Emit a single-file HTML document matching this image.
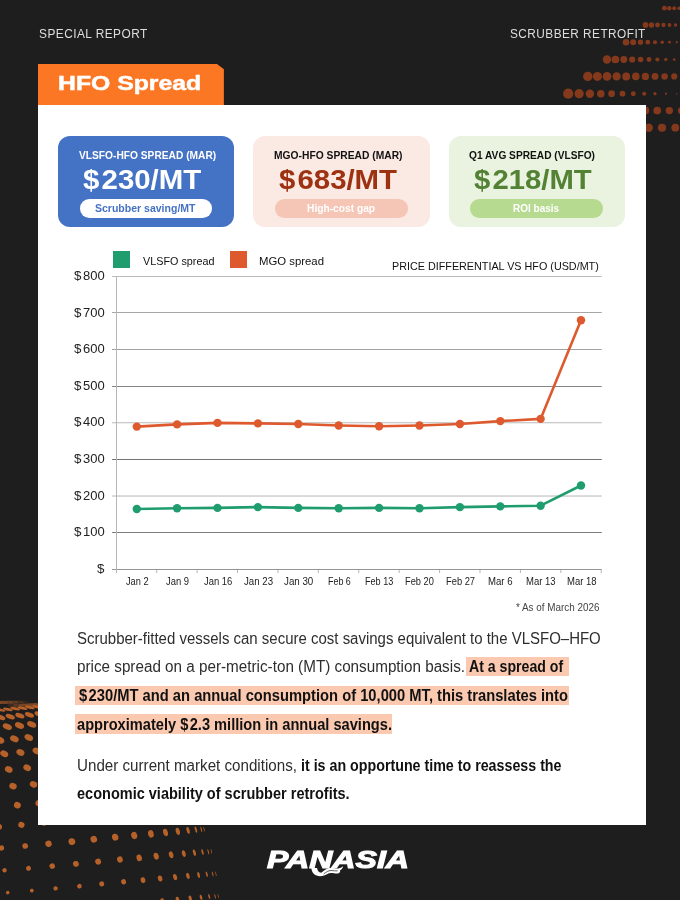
<!DOCTYPE html>
<html lang="en"><head><meta charset="utf-8"><title>HFO Spread</title>
<style>
*{margin:0;padding:0;box-sizing:border-box}
html,body{width:680px;height:900px;overflow:hidden;background:#1e1e1e}
body{position:relative;font-family:"Liberation Sans",sans-serif;color:#222}
.bg{position:absolute;left:0;top:0}
.t{position:absolute;white-space:pre;transform-origin:0 50%}
.tab{position:absolute;left:38px;top:63.7px;width:185.9px;height:41.5px;background:#fb7723;clip-path:polygon(0 0,178.7px 0,100% 5.6px,100% 100%,0 100%)}
.panel{position:absolute;left:37.9px;top:104.6px;width:608.3px;height:720.6px;background:#fff}
.card{position:absolute;top:136px;height:91px;border-radius:12px}
.pill{position:absolute;top:199.2px;height:18.5px;border-radius:9.25px}
.hl{position:absolute;background:#fbc9b0;height:19.5px}
</style></head><body>
<svg class="bg" width="680" height="900" viewBox="0 0 680 900"><g fill="#84391c"><circle cx="664.4" cy="8.2" r="2.40"/><circle cx="669.3" cy="8.2" r="2.20"/><circle cx="674.2" cy="8.2" r="2.00"/><circle cx="679.1" cy="8.2" r="1.80"/><circle cx="684.0" cy="8.2" r="1.60"/><circle cx="688.9" cy="8.2" r="1.60"/><circle cx="645.5" cy="25.0" r="2.90"/><circle cx="651.5" cy="25.0" r="2.65"/><circle cx="657.5" cy="25.0" r="2.40"/><circle cx="663.5" cy="25.0" r="2.15"/><circle cx="669.5" cy="25.0" r="1.90"/><circle cx="675.5" cy="25.0" r="1.65"/><circle cx="681.5" cy="25.0" r="1.40"/><circle cx="687.5" cy="25.0" r="1.30"/><circle cx="626.0" cy="42.2" r="3.30"/><circle cx="633.2" cy="42.2" r="2.99"/><circle cx="640.5" cy="42.2" r="2.67"/><circle cx="647.8" cy="42.2" r="2.36"/><circle cx="655.0" cy="42.2" r="2.05"/><circle cx="662.2" cy="42.2" r="1.74"/><circle cx="669.5" cy="42.2" r="1.42"/><circle cx="676.8" cy="42.2" r="1.11"/><circle cx="684.0" cy="42.2" r="0.80"/><circle cx="607.0" cy="59.5" r="4.20"/><circle cx="615.4" cy="59.5" r="3.84"/><circle cx="623.8" cy="59.5" r="3.48"/><circle cx="632.2" cy="59.5" r="3.12"/><circle cx="640.6" cy="59.5" r="2.76"/><circle cx="649.0" cy="59.5" r="2.40"/><circle cx="657.4" cy="59.5" r="2.04"/><circle cx="665.8" cy="59.5" r="1.68"/><circle cx="674.2" cy="59.5" r="1.32"/><circle cx="682.6" cy="59.5" r="0.96"/><circle cx="587.8" cy="76.4" r="4.70"/><circle cx="597.4" cy="76.4" r="4.52"/><circle cx="607.0" cy="76.4" r="4.34"/><circle cx="616.6" cy="76.4" r="4.16"/><circle cx="626.2" cy="76.4" r="3.98"/><circle cx="635.8" cy="76.4" r="3.80"/><circle cx="645.4" cy="76.4" r="3.62"/><circle cx="655.0" cy="76.4" r="3.44"/><circle cx="664.6" cy="76.4" r="3.26"/><circle cx="674.2" cy="76.4" r="3.08"/><circle cx="683.8" cy="76.4" r="2.90"/><circle cx="568.2" cy="93.7" r="5.10"/><circle cx="579.1" cy="93.7" r="4.66"/><circle cx="589.9" cy="93.7" r="4.22"/><circle cx="600.8" cy="93.7" r="3.78"/><circle cx="611.6" cy="93.7" r="3.34"/><circle cx="622.5" cy="93.7" r="2.90"/><circle cx="633.3" cy="93.7" r="2.46"/><circle cx="644.2" cy="93.7" r="2.02"/><circle cx="655.0" cy="93.7" r="1.58"/><circle cx="665.9" cy="93.7" r="1.14"/><circle cx="676.7" cy="93.7" r="0.70"/><circle cx="687.6" cy="93.7" r="0.40"/><circle cx="548.7" cy="110.6" r="5.30"/><circle cx="560.8" cy="110.6" r="5.14"/><circle cx="572.8" cy="110.6" r="4.98"/><circle cx="584.9" cy="110.6" r="4.82"/><circle cx="596.9" cy="110.6" r="4.66"/><circle cx="609.0" cy="110.6" r="4.50"/><circle cx="621.1" cy="110.6" r="4.34"/><circle cx="633.1" cy="110.6" r="4.18"/><circle cx="645.2" cy="110.6" r="4.02"/><circle cx="657.2" cy="110.6" r="3.86"/><circle cx="669.3" cy="110.6" r="3.70"/><circle cx="681.4" cy="110.6" r="3.54"/><circle cx="529.0" cy="127.7" r="5.60"/><circle cx="542.3" cy="127.7" r="5.45"/><circle cx="555.6" cy="127.7" r="5.29"/><circle cx="568.9" cy="127.7" r="5.14"/><circle cx="582.2" cy="127.7" r="4.98"/><circle cx="595.5" cy="127.7" r="4.83"/><circle cx="608.8" cy="127.7" r="4.67"/><circle cx="622.1" cy="127.7" r="4.52"/><circle cx="635.4" cy="127.7" r="4.36"/><circle cx="648.7" cy="127.7" r="4.21"/><circle cx="662.0" cy="127.7" r="4.06"/><circle cx="675.3" cy="127.7" r="3.90"/><circle cx="688.6" cy="127.7" r="3.80"/></g><g fill="#b7612a"><ellipse cx="-6.7" cy="710.7" rx="4.9" ry="1.4" transform="rotate(13 -6.7 710.7)"/><ellipse cx="0.6" cy="710.0" rx="4.9" ry="1.4" transform="rotate(13 0.6 710.0)"/><ellipse cx="7.9" cy="709.4" rx="4.9" ry="1.4" transform="rotate(13 7.9 709.4)"/><ellipse cx="15.2" cy="708.7" rx="4.9" ry="1.4" transform="rotate(13 15.2 708.7)"/><ellipse cx="22.5" cy="708.1" rx="4.9" ry="1.4" transform="rotate(13 22.5 708.1)"/><ellipse cx="29.8" cy="707.4" rx="4.9" ry="1.4" transform="rotate(13 29.8 707.4)"/><ellipse cx="37.1" cy="706.8" rx="4.9" ry="1.4" transform="rotate(13 37.1 706.8)"/><ellipse cx="44.4" cy="706.1" rx="4.9" ry="1.4" transform="rotate(13 44.4 706.1)"/><ellipse cx="51.7" cy="705.4" rx="4.9" ry="1.4" transform="rotate(13 51.7 705.4)"/><ellipse cx="59.0" cy="704.8" rx="4.9" ry="1.4" transform="rotate(13 59.0 704.8)"/><ellipse cx="-8.9" cy="718.3" rx="4.8" ry="2.3" transform="rotate(19 -8.9 718.3)"/><ellipse cx="0.7" cy="717.4" rx="4.8" ry="2.3" transform="rotate(19 0.7 717.4)"/><ellipse cx="10.3" cy="716.6" rx="4.8" ry="2.3" transform="rotate(19 10.3 716.6)"/><ellipse cx="19.9" cy="715.7" rx="4.8" ry="2.3" transform="rotate(19 19.9 715.7)"/><ellipse cx="29.5" cy="714.8" rx="4.8" ry="2.3" transform="rotate(19 29.5 714.8)"/><ellipse cx="39.1" cy="714.0" rx="4.8" ry="2.3" transform="rotate(19 39.1 714.0)"/><ellipse cx="48.7" cy="713.1" rx="4.8" ry="2.3" transform="rotate(19 48.7 713.1)"/><ellipse cx="58.3" cy="712.3" rx="4.8" ry="2.3" transform="rotate(19 58.3 712.3)"/><ellipse cx="-17.1" cy="728.8" rx="4.8" ry="2.9" transform="rotate(22 -17.1 728.8)"/><ellipse cx="-4.9" cy="727.7" rx="4.8" ry="2.9" transform="rotate(22 -4.9 727.7)"/><ellipse cx="7.3" cy="726.6" rx="4.8" ry="2.9" transform="rotate(22 7.3 726.6)"/><ellipse cx="19.5" cy="725.5" rx="4.8" ry="2.9" transform="rotate(22 19.5 725.5)"/><ellipse cx="31.7" cy="724.4" rx="4.8" ry="2.9" transform="rotate(22 31.7 724.4)"/><ellipse cx="43.9" cy="723.3" rx="4.8" ry="2.9" transform="rotate(22 43.9 723.3)"/><ellipse cx="56.1" cy="722.3" rx="4.8" ry="2.9" transform="rotate(22 56.1 722.3)"/><ellipse cx="-14.4" cy="741.4" rx="4.5" ry="3.1" transform="rotate(25 -14.4 741.4)"/><ellipse cx="0.0" cy="740.1" rx="4.5" ry="3.1" transform="rotate(25 0.0 740.1)"/><ellipse cx="14.4" cy="738.8" rx="4.5" ry="3.1" transform="rotate(25 14.4 738.8)"/><ellipse cx="28.8" cy="737.5" rx="4.5" ry="3.1" transform="rotate(25 28.8 737.5)"/><ellipse cx="43.2" cy="736.2" rx="4.5" ry="3.1" transform="rotate(25 43.2 736.2)"/><ellipse cx="57.6" cy="734.9" rx="4.5" ry="3.1" transform="rotate(25 57.6 734.9)"/><ellipse cx="-12.0" cy="755.3" rx="4.2" ry="3.1" transform="rotate(26 -12.0 755.3)"/><ellipse cx="4.2" cy="753.8" rx="4.2" ry="3.1" transform="rotate(26 4.2 753.8)"/><ellipse cx="20.4" cy="752.4" rx="4.2" ry="3.1" transform="rotate(26 20.4 752.4)"/><ellipse cx="36.6" cy="750.9" rx="4.2" ry="3.1" transform="rotate(26 36.6 750.9)"/><ellipse cx="52.8" cy="749.4" rx="4.2" ry="3.1" transform="rotate(26 52.8 749.4)"/><ellipse cx="-9.8" cy="771.1" rx="4.0" ry="3.1" transform="rotate(26 -9.8 771.1)"/><ellipse cx="8.7" cy="769.4" rx="4.0" ry="3.1" transform="rotate(26 8.7 769.4)"/><ellipse cx="27.2" cy="767.8" rx="4.0" ry="3.1" transform="rotate(26 27.2 767.8)"/><ellipse cx="45.7" cy="766.1" rx="4.0" ry="3.1" transform="rotate(26 45.7 766.1)"/><ellipse cx="-7.5" cy="788.1" rx="3.8" ry="3.1" transform="rotate(24 -7.5 788.1)"/><ellipse cx="13.0" cy="786.2" rx="3.8" ry="3.1" transform="rotate(24 13.0 786.2)"/><ellipse cx="33.5" cy="784.4" rx="3.8" ry="3.1" transform="rotate(24 33.5 784.4)"/><ellipse cx="54.0" cy="782.5" rx="3.8" ry="3.1" transform="rotate(24 54.0 782.5)"/><ellipse cx="-25.6" cy="809.1" rx="3.5" ry="3.2" transform="rotate(20 -25.6 809.1)"/><ellipse cx="-4.1" cy="807.2" rx="3.5" ry="3.2" transform="rotate(20 -4.1 807.2)"/><ellipse cx="17.4" cy="805.2" rx="3.5" ry="3.2" transform="rotate(20 17.4 805.2)"/><ellipse cx="38.9" cy="803.3" rx="3.5" ry="3.2" transform="rotate(20 38.9 803.3)"/><ellipse cx="-23.8" cy="828.9" rx="3.2" ry="3.0" transform="rotate(10 -23.8 828.9)"/><ellipse cx="-1.2" cy="826.9" rx="3.2" ry="3.0" transform="rotate(10 -1.2 826.9)"/><ellipse cx="21.4" cy="824.9" rx="3.2" ry="3.0" transform="rotate(10 21.4 824.9)"/><ellipse cx="44.0" cy="822.8" rx="3.2" ry="3.0" transform="rotate(10 44.0 822.8)"/><g opacity="0.62"><ellipse cx="-2.0" cy="702.5" rx="4.6" ry="1.7" opacity="1.07"/><ellipse cx="3.2" cy="702.4" rx="4.6" ry="1.7" opacity="0.89"/><ellipse cx="8.4" cy="702.3" rx="4.6" ry="1.7" opacity="0.72"/><ellipse cx="13.6" cy="702.2" rx="4.6" ry="1.7" opacity="0.55"/><ellipse cx="18.8" cy="702.1" rx="4.6" ry="1.7" opacity="0.37"/><ellipse cx="24.0" cy="702.0" rx="4.6" ry="1.7" opacity="0.20"/><ellipse cx="12.0" cy="705.4" rx="4.6" ry="1.6" opacity="0.30"/><ellipse cx="17.8" cy="705.3" rx="4.6" ry="1.6" opacity="0.62"/><ellipse cx="23.6" cy="705.1" rx="4.6" ry="1.6" opacity="0.94"/><ellipse cx="29.4" cy="704.9" rx="4.6" ry="1.6" opacity="1.00"/><ellipse cx="35.2" cy="704.7" rx="4.6" ry="1.6" opacity="1.00"/><ellipse cx="41.0" cy="704.6" rx="4.6" ry="1.6" opacity="1.00"/></g><ellipse cx="1.5" cy="848.0" rx="2.60" ry="2.60" transform="rotate(-14 1.5 848.0)"/><ellipse cx="25.2" cy="846.0" rx="2.80" ry="2.80" transform="rotate(-14 25.2 846.0)"/><ellipse cx="48.5" cy="843.8" rx="3.20" ry="3.20" transform="rotate(-14 48.5 843.8)"/><ellipse cx="71.9" cy="841.6" rx="3.40" ry="3.40" transform="rotate(-14 71.9 841.6)"/><ellipse cx="93.8" cy="839.3" rx="3.30" ry="3.40" transform="rotate(-14 93.8 839.3)"/><ellipse cx="115.2" cy="837.2" rx="3.20" ry="3.50" transform="rotate(-14 115.2 837.2)"/><ellipse cx="134.2" cy="835.5" rx="3.00" ry="3.70" transform="rotate(-14 134.2 835.5)"/><ellipse cx="150.9" cy="833.9" rx="2.80" ry="3.80" transform="rotate(-14 150.9 833.9)"/><ellipse cx="165.5" cy="832.5" rx="2.40" ry="3.80" transform="rotate(-14 165.5 832.5)"/><ellipse cx="177.8" cy="831.3" rx="2.00" ry="3.70" transform="rotate(-14 177.8 831.3)"/><ellipse cx="188.1" cy="830.4" rx="1.50" ry="3.50" transform="rotate(-14 188.1 830.4)"/><ellipse cx="195.9" cy="829.6" rx="1.00" ry="3.30" transform="rotate(-14 195.9 829.6)"/><ellipse cx="201.3" cy="829.4" rx="0.60" ry="3.00" transform="rotate(-14 201.3 829.4)"/><ellipse cx="204.1" cy="829.2" rx="0.40" ry="2.60" transform="rotate(-14 204.1 829.2)"/><ellipse cx="4.5" cy="870.3" rx="2.24" ry="2.24" transform="rotate(-14 4.5 870.3)"/><ellipse cx="28.5" cy="868.3" rx="2.41" ry="2.41" transform="rotate(-14 28.5 868.3)"/><ellipse cx="52.2" cy="866.1" rx="2.75" ry="2.75" transform="rotate(-14 52.2 866.1)"/><ellipse cx="75.9" cy="863.9" rx="2.92" ry="2.92" transform="rotate(-14 75.9 863.9)"/><ellipse cx="98.1" cy="861.6" rx="2.93" ry="3.02" transform="rotate(-14 98.1 861.6)"/><ellipse cx="119.9" cy="859.5" rx="2.86" ry="3.13" transform="rotate(-14 119.9 859.5)"/><ellipse cx="139.2" cy="857.8" rx="2.70" ry="3.34" transform="rotate(-14 139.2 857.8)"/><ellipse cx="156.2" cy="856.2" rx="2.54" ry="3.45" transform="rotate(-14 156.2 856.2)"/><ellipse cx="171.1" cy="854.8" rx="2.20" ry="3.48" transform="rotate(-14 171.1 854.8)"/><ellipse cx="183.8" cy="853.6" rx="1.84" ry="3.41" transform="rotate(-14 183.8 853.6)"/><ellipse cx="194.4" cy="852.7" rx="1.39" ry="3.25" transform="rotate(-14 194.4 852.7)"/><ellipse cx="202.5" cy="851.9" rx="0.94" ry="3.09" transform="rotate(-14 202.5 851.9)"/><ellipse cx="208.3" cy="851.7" rx="0.57" ry="2.83" transform="rotate(-14 208.3 851.7)"/><ellipse cx="211.4" cy="851.5" rx="0.38" ry="2.47" transform="rotate(-14 211.4 851.5)"/><ellipse cx="7.7" cy="892.6" rx="1.77" ry="1.77" transform="rotate(-14 7.7 892.6)"/><ellipse cx="31.8" cy="890.6" rx="1.90" ry="1.90" transform="rotate(-14 31.8 890.6)"/><ellipse cx="55.6" cy="888.4" rx="2.18" ry="2.18" transform="rotate(-14 55.6 888.4)"/><ellipse cx="79.4" cy="886.2" rx="2.31" ry="2.31" transform="rotate(-14 79.4 886.2)"/><ellipse cx="101.7" cy="883.9" rx="2.47" ry="2.54" transform="rotate(-14 101.7 883.9)"/><ellipse cx="123.6" cy="881.8" rx="2.45" ry="2.68" transform="rotate(-14 123.6 881.8)"/><ellipse cx="143.0" cy="880.1" rx="2.35" ry="2.90" transform="rotate(-14 143.0 880.1)"/><ellipse cx="160.1" cy="878.5" rx="2.24" ry="3.04" transform="rotate(-14 160.1 878.5)"/><ellipse cx="175.1" cy="877.1" rx="1.96" ry="3.10" transform="rotate(-14 175.1 877.1)"/><ellipse cx="187.9" cy="875.9" rx="1.67" ry="3.09" transform="rotate(-14 187.9 875.9)"/><ellipse cx="198.6" cy="875.0" rx="1.28" ry="2.98" transform="rotate(-14 198.6 875.0)"/><ellipse cx="206.8" cy="874.2" rx="0.87" ry="2.87" transform="rotate(-14 206.8 874.2)"/><ellipse cx="212.7" cy="874.0" rx="0.53" ry="2.66" transform="rotate(-14 212.7 874.0)"/><ellipse cx="215.9" cy="873.8" rx="0.36" ry="2.35" transform="rotate(-14 215.9 873.8)"/><ellipse cx="9.9" cy="914.9" rx="1.30" ry="1.30" transform="rotate(-14 9.9 914.9)"/><ellipse cx="34.0" cy="912.9" rx="1.40" ry="1.40" transform="rotate(-14 34.0 912.9)"/><ellipse cx="57.8" cy="910.7" rx="1.60" ry="1.60" transform="rotate(-14 57.8 910.7)"/><ellipse cx="81.6" cy="908.5" rx="1.70" ry="1.70" transform="rotate(-14 81.6 908.5)"/><ellipse cx="104.0" cy="906.2" rx="2.01" ry="2.07" transform="rotate(-14 104.0 906.2)"/><ellipse cx="125.8" cy="904.1" rx="2.04" ry="2.23" transform="rotate(-14 125.8 904.1)"/><ellipse cx="145.3" cy="902.4" rx="1.99" ry="2.46" transform="rotate(-14 145.3 902.4)"/><ellipse cx="162.4" cy="900.8" rx="1.94" ry="2.63" transform="rotate(-14 162.4 900.8)"/><ellipse cx="177.5" cy="899.4" rx="1.73" ry="2.74" transform="rotate(-14 177.5 899.4)"/><ellipse cx="190.2" cy="898.2" rx="1.49" ry="2.77" transform="rotate(-14 190.2 898.2)"/><ellipse cx="201.0" cy="897.3" rx="1.16" ry="2.71" transform="rotate(-14 201.0 897.3)"/><ellipse cx="209.2" cy="896.5" rx="0.80" ry="2.65" transform="rotate(-14 209.2 896.5)"/><ellipse cx="215.1" cy="896.3" rx="0.50" ry="2.49" transform="rotate(-14 215.1 896.3)"/><ellipse cx="218.3" cy="896.1" rx="0.34" ry="2.23" transform="rotate(-14 218.3 896.1)"/></g></svg>
<div class="tab"></div>
<div class="panel"></div>
<div class="card" style="left:57.5px;width:176.5px;background:#4472c4"></div>
<div class="card" style="left:253.25px;width:176.25px;background:#fbe9e3"></div>
<div class="card" style="left:449px;width:176px;background:#e9f3df"></div>
<div class="pill" style="left:79.5px;width:132.25px;background:#fff"></div>
<div class="pill" style="left:274.5px;width:133px;background:#f5c6b5"></div>
<div class="pill" style="left:470px;width:133px;background:#b7da91"></div>
<svg class="bg" width="680" height="900" viewBox="0 0 680 900"><rect x="112" y="276" width="489.75" height="1" fill="#bcbcbc"/><rect x="112" y="312" width="489.75" height="1" fill="#a6a6a6"/><rect x="112" y="349" width="489.75" height="1" fill="#a2a2a2"/><rect x="112" y="386" width="489.75" height="1" fill="#858585"/><rect x="112" y="422" width="489.75" height="1" fill="#cbcbcb"/><rect x="112" y="423" width="489.75" height="1" fill="#ededed"/><rect x="112" y="459" width="489.75" height="1" fill="#747474"/><rect x="112" y="495" width="489.75" height="1" fill="#dcdcdc"/><rect x="112" y="496" width="489.75" height="1" fill="#d8d8d8"/><rect x="112" y="532" width="489.75" height="1" fill="#7d7d7d"/><rect x="112" y="569" width="489.75" height="1" fill="#969696"/><rect x="116" y="276" width="1" height="297" fill="#b6b6b6"/><rect x="156.17" y="570" width="1" height="3" fill="#b6b6b6"/><rect x="196.58" y="570" width="1" height="3" fill="#b6b6b6"/><rect x="237.00" y="570" width="1" height="3" fill="#b6b6b6"/><rect x="277.42" y="570" width="1" height="3" fill="#b6b6b6"/><rect x="317.83" y="570" width="1" height="3" fill="#b6b6b6"/><rect x="358.25" y="570" width="1" height="3" fill="#b6b6b6"/><rect x="398.67" y="570" width="1" height="3" fill="#b6b6b6"/><rect x="439.08" y="570" width="1" height="3" fill="#b6b6b6"/><rect x="479.50" y="570" width="1" height="3" fill="#b6b6b6"/><rect x="519.92" y="570" width="1" height="3" fill="#b6b6b6"/><rect x="560.33" y="570" width="1" height="3" fill="#b6b6b6"/><rect x="600.75" y="570" width="1" height="3" fill="#b6b6b6"/><polyline points="136.8,426.6 177.1,424.4 217.5,422.9 257.9,423.4 298.3,424.0 338.7,425.5 379.1,426.2 419.5,425.5 459.9,424.0 500.3,421.1 540.6,418.9 581.0,320.3" fill="none" stroke="#de5a2e" stroke-width="2.6" stroke-linejoin="round"/><circle cx="136.8" cy="426.6" r="4.2" fill="#de5a2e"/><circle cx="177.1" cy="424.4" r="4.2" fill="#de5a2e"/><circle cx="217.5" cy="422.9" r="4.2" fill="#de5a2e"/><circle cx="257.9" cy="423.4" r="4.2" fill="#de5a2e"/><circle cx="298.3" cy="424.0" r="4.2" fill="#de5a2e"/><circle cx="338.7" cy="425.5" r="4.2" fill="#de5a2e"/><circle cx="379.1" cy="426.2" r="4.2" fill="#de5a2e"/><circle cx="419.5" cy="425.5" r="4.2" fill="#de5a2e"/><circle cx="459.9" cy="424.0" r="4.2" fill="#de5a2e"/><circle cx="500.3" cy="421.1" r="4.2" fill="#de5a2e"/><circle cx="540.6" cy="418.9" r="4.2" fill="#de5a2e"/><circle cx="581.0" cy="320.3" r="4.2" fill="#de5a2e"/><polyline points="136.8,509.0 177.1,508.2 217.5,507.9 257.9,507.1 298.3,507.9 338.7,508.2 379.1,507.9 419.5,508.2 459.9,507.1 500.3,506.4 540.6,505.7 581.0,485.5" fill="none" stroke="#1f9d6f" stroke-width="2.6" stroke-linejoin="round"/><circle cx="136.8" cy="509.0" r="4.2" fill="#1f9d6f"/><circle cx="177.1" cy="508.2" r="4.2" fill="#1f9d6f"/><circle cx="217.5" cy="507.9" r="4.2" fill="#1f9d6f"/><circle cx="257.9" cy="507.1" r="4.2" fill="#1f9d6f"/><circle cx="298.3" cy="507.9" r="4.2" fill="#1f9d6f"/><circle cx="338.7" cy="508.2" r="4.2" fill="#1f9d6f"/><circle cx="379.1" cy="507.9" r="4.2" fill="#1f9d6f"/><circle cx="419.5" cy="508.2" r="4.2" fill="#1f9d6f"/><circle cx="459.9" cy="507.1" r="4.2" fill="#1f9d6f"/><circle cx="500.3" cy="506.4" r="4.2" fill="#1f9d6f"/><circle cx="540.6" cy="505.7" r="4.2" fill="#1f9d6f"/><circle cx="581.0" cy="485.5" r="4.2" fill="#1f9d6f"/><rect x="113" y="251" width="17" height="17" fill="#1f9d6f"/><rect x="230" y="251" width="17" height="17" fill="#de5a2e"/></svg>
<div class="hl" style="left:466px;top:656.5px;width:103px"></div>
<div class="hl" style="left:75px;top:685.5px;width:494px"></div>
<div class="hl" style="left:75px;top:714.2px;width:317px"></div>
<div class="t" style="left:38.60px;top:26.43px;font-size:13.2px;line-height:16px;color:#dedede;transform:scaleX(0.9014);letter-spacing:0.5px">SPECIAL REPORT</div>
<div class="t" style="left:510.00px;top:26.43px;font-size:13.2px;line-height:16px;color:#dedede;transform:scaleX(0.8971);letter-spacing:0.5px">SCRUBBER RETROFIT</div>
<div class="t" style="left:58.20px;top:70.12px;font-size:21px;line-height:26px;color:#fff;transform:scaleX(1.1800);font-weight:700;-webkit-text-stroke:0.5px #fff">HFO Spread</div>
<div class="t" style="left:78.50px;top:147.92px;font-size:11.5px;line-height:14px;color:#fff;transform:scaleX(0.8874);font-weight:700">VLSFO-HFO SPREAD (MAR)</div>
<div class="t" style="left:273.70px;top:147.92px;font-size:11.5px;line-height:14px;color:#111;transform:scaleX(0.8939);font-weight:700">MGO-HFO SPREAD (MAR)</div>
<div class="t" style="left:468.70px;top:147.92px;font-size:11.5px;line-height:14px;color:#111;transform:scaleX(0.8842);font-weight:700">Q1 AVG SPREAD (VLSFO)</div>
<div class="t" style="left:83.20px;top:163.31px;font-size:27.4px;line-height:33px;color:#fff;transform:scaleX(1.0745);font-weight:700"><span style="letter-spacing:2px">$</span>230/MT</div>
<div class="t" style="left:278.50px;top:163.31px;font-size:27.4px;line-height:33px;color:#9c3212;transform:scaleX(1.0718);font-weight:700"><span style="letter-spacing:2px">$</span>683/MT</div>
<div class="t" style="left:473.50px;top:163.31px;font-size:27.4px;line-height:33px;color:#548235;transform:scaleX(1.0691);font-weight:700"><span style="letter-spacing:2px">$</span>218/MT</div>
<div class="t" style="left:95.40px;top:201.42px;font-size:11.2px;line-height:14px;color:#4472c4;transform:scaleX(0.9398);font-weight:700">Scrubber saving/MT</div>
<div class="t" style="left:306.70px;top:201.42px;font-size:11.2px;line-height:14px;color:#fff;transform:scaleX(0.9129);font-weight:700">High-cost gap</div>
<div class="t" style="left:513.40px;top:201.42px;font-size:11.2px;line-height:14px;color:#fff;transform:scaleX(0.8932);font-weight:700">ROI basis</div>
<div class="t" style="left:142.60px;top:254.22px;font-size:11.5px;line-height:14px;color:#111;transform:scaleX(0.9385)">VLSFO spread</div>
<div class="t" style="left:259.00px;top:254.22px;font-size:11.5px;line-height:14px;color:#111;transform:scaleX(0.9874)">MGO spread</div>
<div class="t" style="left:392.00px;top:258.62px;font-size:10.9px;line-height:14px;color:#111;transform:scaleX(0.9897)">PRICE DIFFERENTIAL VS HFO (USD/MT)</div>
<div class="t" style="left:96.90px;top:559.89px;font-size:13.6px;line-height:17px;color:#222;transform:scaleX(0.9785)">$</div>
<div class="t" style="left:74.40px;top:523.26px;font-size:13.6px;line-height:17px;color:#222;transform:scaleX(0.9785)">$</div>
<div class="t" style="left:83.30px;top:523.26px;font-size:13.6px;line-height:17px;color:#222;transform:scaleX(0.9565)">100</div>
<div class="t" style="left:74.40px;top:486.64px;font-size:13.6px;line-height:17px;color:#222;transform:scaleX(0.9785)">$</div>
<div class="t" style="left:83.30px;top:486.64px;font-size:13.6px;line-height:17px;color:#222;transform:scaleX(0.9565)">200</div>
<div class="t" style="left:74.40px;top:450.01px;font-size:13.6px;line-height:17px;color:#222;transform:scaleX(0.9785)">$</div>
<div class="t" style="left:83.30px;top:450.01px;font-size:13.6px;line-height:17px;color:#222;transform:scaleX(0.9565)">300</div>
<div class="t" style="left:74.40px;top:413.39px;font-size:13.6px;line-height:17px;color:#222;transform:scaleX(0.9785)">$</div>
<div class="t" style="left:83.30px;top:413.39px;font-size:13.6px;line-height:17px;color:#222;transform:scaleX(0.9565)">400</div>
<div class="t" style="left:74.40px;top:376.76px;font-size:13.6px;line-height:17px;color:#222;transform:scaleX(0.9785)">$</div>
<div class="t" style="left:83.30px;top:376.76px;font-size:13.6px;line-height:17px;color:#222;transform:scaleX(0.9565)">500</div>
<div class="t" style="left:74.40px;top:340.14px;font-size:13.6px;line-height:17px;color:#222;transform:scaleX(0.9785)">$</div>
<div class="t" style="left:83.30px;top:340.14px;font-size:13.6px;line-height:17px;color:#222;transform:scaleX(0.9565)">600</div>
<div class="t" style="left:74.40px;top:303.51px;font-size:13.6px;line-height:17px;color:#222;transform:scaleX(0.9785)">$</div>
<div class="t" style="left:83.30px;top:303.51px;font-size:13.6px;line-height:17px;color:#222;transform:scaleX(0.9565)">700</div>
<div class="t" style="left:74.40px;top:266.89px;font-size:13.6px;line-height:17px;color:#222;transform:scaleX(0.9785)">$</div>
<div class="t" style="left:83.30px;top:266.89px;font-size:13.6px;line-height:17px;color:#222;transform:scaleX(0.9565)">800</div>
<div class="t" style="left:125.85px;top:575.37px;font-size:10.2px;line-height:13px;color:#222;transform:scaleX(0.9048)">Jan 2</div>
<div class="t" style="left:165.85px;top:575.37px;font-size:10.2px;line-height:13px;color:#222;transform:scaleX(0.9249)">Jan 9</div>
<div class="t" style="left:203.85px;top:575.37px;font-size:10.2px;line-height:13px;color:#222;transform:scaleX(0.9250)">Jan 16</div>
<div class="t" style="left:243.85px;top:575.37px;font-size:10.2px;line-height:13px;color:#222;transform:scaleX(0.9495)">Jan 23</div>
<div class="t" style="left:284.10px;top:575.37px;font-size:10.2px;line-height:13px;color:#222;transform:scaleX(0.9577)">Jan 30</div>
<div class="t" style="left:327.60px;top:575.37px;font-size:10.2px;line-height:13px;color:#222;transform:scaleX(0.8748)">Feb 6</div>
<div class="t" style="left:365.35px;top:575.37px;font-size:10.2px;line-height:13px;color:#222;transform:scaleX(0.8922)">Feb 13</div>
<div class="t" style="left:405.35px;top:575.37px;font-size:10.2px;line-height:13px;color:#222;transform:scaleX(0.9080)">Feb 20</div>
<div class="t" style="left:445.60px;top:575.37px;font-size:10.2px;line-height:13px;color:#222;transform:scaleX(0.9159)">Feb 27</div>
<div class="t" style="left:488.35px;top:575.37px;font-size:10.2px;line-height:13px;color:#222;transform:scaleX(0.9425)">Mar 6</div>
<div class="t" style="left:526.35px;top:575.37px;font-size:10.2px;line-height:13px;color:#222;transform:scaleX(0.9316)">Mar 13</div>
<div class="t" style="left:566.60px;top:575.37px;font-size:10.2px;line-height:13px;color:#222;transform:scaleX(0.9316)">Mar 18</div>
<div class="t" style="left:516.20px;top:601.23px;font-size:10.6px;line-height:13px;color:#444;transform:scaleX(0.9317)">* As of March 2026</div>
<div class="t" style="left:76.60px;top:628.63px;font-size:15.8px;line-height:19px;color:#2e2e2e;transform:scaleX(0.9484)">Scrubber-fitted vessels can secure cost savings equivalent to the VLSFO–HFO</div>
<div class="t" style="left:76.60px;top:657.33px;font-size:15.8px;line-height:19px;color:#2e2e2e;transform:scaleX(0.9649)">price spread on a per-metric-ton (MT) consumption basis.</div>
<div class="t" style="left:469.00px;top:657.33px;font-size:15.8px;line-height:19px;color:#111;transform:scaleX(0.8942);font-weight:700">At a spread of</div>
<div class="t" style="left:79.00px;top:686.03px;font-size:15.8px;line-height:19px;color:#111;transform:scaleX(0.9320);font-weight:700"><span style="letter-spacing:1.5px">$</span>230/MT and an annual consumption of 10,000 MT, this translates into</div>
<div class="t" style="left:76.80px;top:714.53px;font-size:15.8px;line-height:19px;color:#111;transform:scaleX(0.9254);font-weight:700">approximately <span style="letter-spacing:1.5px">$</span>2.3 million in annual savings.</div>
<div class="t" style="left:76.60px;top:755.53px;font-size:15.8px;line-height:19px;color:#2e2e2e;transform:scaleX(0.9600)">Under current market conditions,</div>
<div class="t" style="left:300.50px;top:755.53px;font-size:15.8px;line-height:19px;color:#111;transform:scaleX(0.9020);font-weight:700">it is an opportune time to reassess the</div>
<div class="t" style="left:76.80px;top:784.03px;font-size:15.8px;line-height:19px;color:#111;transform:scaleX(0.9188);font-weight:700">economic viability of scrubber retrofits.</div>
<div class="t" style="left:266.80px;top:844.81px;font-size:24.8px;line-height:30px;color:#fff;transform:scaleX(1.2937);font-weight:700;font-style:italic;-webkit-text-stroke:1.1px #fff">PANASIA</div>
<svg class="bg" width="680" height="900" viewBox="0 0 680 900"><path d="M311.3 868 L317.1 868 C317.3 870.5,318.6 872.5,321.3 872.8 C324.8 869.8,327.4 868.1,330.3 868 C333 867.9,335 868.9,337.5 868.6 C340 868.3,341.8 867.4,343.1 866.2 C342.7 868.2,341.6 869.6,339.9 870.5 C340.6 871.4,339.8 872.6,338.6 873.2 C336.8 874.2,334 873,331 872.9 C328 872.8,327 874.5,324.1 875.5 C321 876.6,316.5 876.6,314 874.1 C312.3 872.4,311.6 870.5,311.3 868Z" fill="#fff"/><path d="M323.6 873.9 C326.5 872,328.2 870.6,331 870.5 C333.5 870.4,335.3 871.2,337.6 870.9" fill="none" stroke="#1e1e1e" stroke-width="0.7"/></svg>
</body></html>
